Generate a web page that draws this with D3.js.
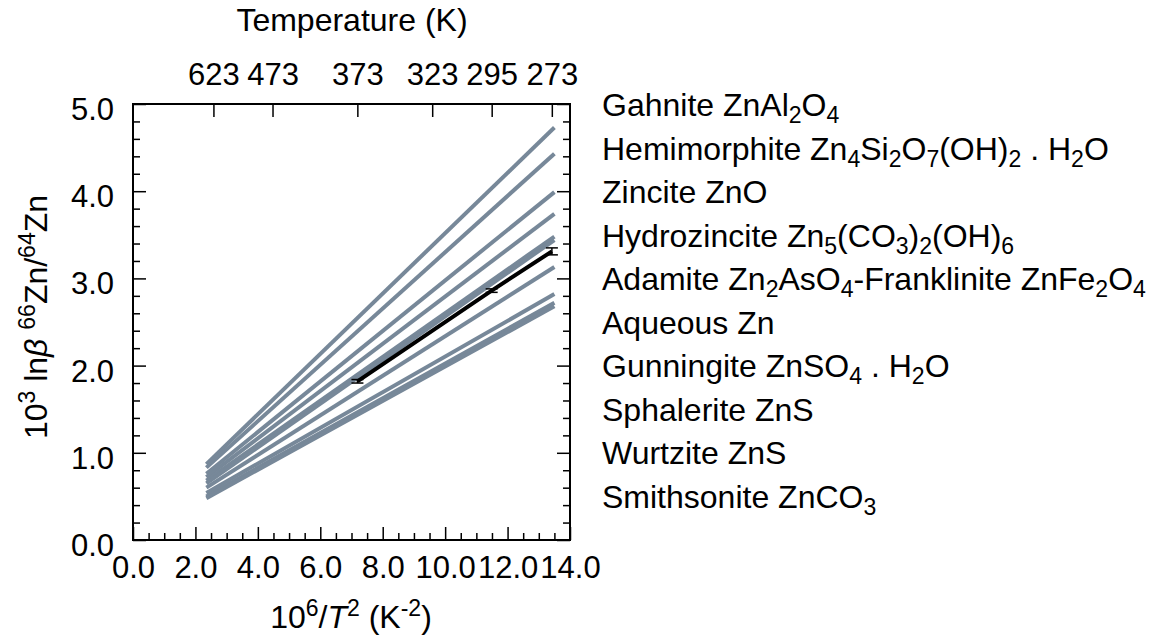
<!DOCTYPE html>
<html>
<head>
<meta charset="utf-8">
<script src="https://cdn.jsdelivr.net/npm/d3@7"></script>
<style>
  body { margin: 0; background: #fff; }
  svg { font-family: "Liberation Sans", Arial, Helvetica, sans-serif; }
</style>
</head>
<body>
<svg id="chart" width="1153" height="635"></svg>
<script>
// model lines: 10^3 ln beta at the hot end and the cold end
const LINE_X = [2.35, 13.5];
const lineStart = [0.87, 0.83, 0.76, 0.72, 0.68, 0.65, 0.60, 0.54, 0.50, 0.48];
const lineEnd   = [4.73, 4.43, 3.99, 3.74, 3.48, 3.44, 3.13, 2.82, 2.72, 2.68];

// measured points (black) with error bars
const measX   = [7.19, 11.49, 13.42];
const measY   = [1.82, 2.86, 3.31];
const measErr = [0.02, 0.02, 0.04];

const xTicks = [0, 2, 4, 6, 8, 10, 12, 14];
const yTicks = [0, 1, 2, 3, 4, 5];
const tempTicks = [623, 473, 373, 323, 295, 273];

// legend text, _{} subscript, ^{} superscript
const minerals = [
  'Gahnite ZnAl_{2}O_{4}',
  'Hemimorphite Zn_{4}Si_{2}O_{7}(OH)_{2} . H_{2}O',
  'Zincite ZnO',
  'Hydrozincite Zn_{5}(CO_{3})_{2}(OH)_{6}',
  'Adamite Zn_{2}AsO_{4}-Franklinite ZnFe_{2}O_{4}',
  'Aqueous Zn',
  'Gunningite ZnSO_{4} . H_{2}O',
  'Sphalerite ZnS',
  'Wurtzite ZnS',
  'Smithsonite ZnCO_{3}'
];

const FS = 32;      // titles, legend
const TICK_FS = 31; // tick labels
const svg = d3.select('#chart');
const x = d3.scaleLinear().domain([0, 14]).range([133, 570]);
const y = d3.scaleLinear().domain([0, 5]).range([540, 104]);

// write text with sub/superscripts and italics (*{..})
function rich(sel, str, size) {
  const parts = str.split(/([_^*]\{[^}]*\})/).filter(s => s.length);
  let shift = 0;
  for (const p of parts) {
    let txt = p, dy = 0, fs = size, it = false;
    if (p[0] === '_' && p[1] === '{') { txt = p.slice(2, -1); dy = 0.22 * size; fs = size * 0.72; }
    else if (p[0] === '^' && p[1] === '{') { txt = p.slice(2, -1); dy = -0.36 * size; fs = size * 0.72; }
    else if (p[0] === '*' && p[1] === '{') { txt = p.slice(2, -1); it = true; }
    sel.append('tspan')
      .attr('dy', dy - shift)
      .attr('font-size', fs)
      .attr('font-style', it ? 'italic' : null)
      .text(txt);
    shift = dy;
  }
}

// lines
const g = svg.append('g');
g.selectAll('.model')
  .data(lineStart.map((s, i) => [[LINE_X[0], s], [LINE_X[1], lineEnd[i]]]))
  .join('path')
  .attr('class', 'model')
  .attr('fill', 'none')
  .attr('stroke', '#778899')
  .attr('stroke-width', 4)
  .attr('d', d3.line().x(d => x(d[0])).y(d => y(d[1])));

const meas = measX.map((v, i) => ({ x: v, y: measY[i], e: measErr[i] }));
g.append('path')
  .datum(meas)
  .attr('fill', 'none')
  .attr('stroke', '#000')
  .attr('stroke-width', 4)
  .attr('d', d3.line().x(d => x(d.x)).y(d => y(d.y)));

const eb = g.selectAll('.err').data(meas).join('g').attr('class', 'err');
eb.append('line')
  .attr('x1', d => x(d.x)).attr('x2', d => x(d.x))
  .attr('y1', d => y(d.y - d.e)).attr('y2', d => y(d.y + d.e))
  .attr('stroke', '#000').attr('stroke-width', 1.5);
for (const sgn of [-1, 1]) {
  eb.append('line')
    .attr('x1', d => x(d.x) - 6).attr('x2', d => x(d.x) + 6)
    .attr('y1', d => y(d.y + sgn * d.e)).attr('y2', d => y(d.y + sgn * d.e))
    .attr('stroke', '#000').attr('stroke-width', 1.5);
}

// axes, ticks pointing in
function styleAxis(a) {
  a.select('.domain').remove();
  a.selectAll('line').attr('stroke', '#000').attr('stroke-width', 1.5);
  a.selectAll('text').attr('font-size', TICK_FS).attr('fill', '#000')
    .attr('font-family', '"Liberation Sans", Arial, sans-serif');
}
const minorX = d3.range(0, 14.01, 0.5).filter(v => v % 2 !== 0);
const minorY = d3.range(0, 5.01, 0.2).filter(v => Math.abs(v - Math.round(v)) > 1e-6);

svg.append('g').attr('transform', 'translate(0,540)')
  .call(d3.axisBottom(x).tickValues(xTicks).tickFormat(d3.format('.1f')).tickSize(-13).tickPadding(16))
  .call(styleAxis);
svg.append('g').attr('transform', 'translate(0,540)')
  .call(d3.axisBottom(x).tickValues(minorX).tickFormat('').tickSize(-7))
  .call(styleAxis);

svg.append('g').attr('transform', 'translate(133,0)')
  .call(d3.axisLeft(y).tickValues(yTicks).tickFormat(d3.format('.1f')).tickSize(-13).tickPadding(19))
  .call(styleAxis)
  .call(a => a.selectAll('text').attr('dy', '0.5em'));
svg.append('g').attr('transform', 'translate(133,0)')
  .call(d3.axisLeft(y).tickValues(minorY).tickFormat('').tickSize(-7))
  .call(styleAxis);
svg.append('g').attr('transform', 'translate(570,0)')
  .call(d3.axisRight(y).tickValues(yTicks).tickFormat('').tickSize(-13))
  .call(styleAxis);
svg.append('g').attr('transform', 'translate(570,0)')
  .call(d3.axisRight(y).tickValues(minorY).tickFormat('').tickSize(-7))
  .call(styleAxis);

svg.append('g').attr('transform', 'translate(0,104)')
  .call(d3.axisTop(x).tickValues(tempTicks.map(t => 1e6 / (t * t)))
    .tickFormat((d, i) => tempTicks[i]).tickSize(-13).tickPadding(19))
  .call(styleAxis);

svg.append('rect')
  .attr('x', 133).attr('y', 104).attr('width', 437).attr('height', 436)
  .attr('fill', 'none').attr('stroke', '#000').attr('stroke-width', 2);

// titles
svg.append('text').attr('x', 352).attr('y', 31).attr('text-anchor', 'middle')
  .attr('font-size', FS).text('Temperature (K)');

rich(svg.append('text').attr('x', 351).attr('y', 628).attr('text-anchor', 'middle')
  .attr('font-size', FS), '10^{6}/*{T}^{2} (K^{-2})', FS);

rich(svg.append('text').attr('transform', 'translate(47,317) rotate(-90)')
  .attr('text-anchor', 'middle').attr('font-size', FS),
  '10^{3} ln*{β} ^{66}Zn/^{64}Zn', FS);

// legend
const ly = d3.scaleLinear().domain([0, minerals.length - 1]).range([116, 507.5]);
minerals.forEach((m, i) => {
  rich(svg.append('text').attr('x', 602).attr('y', ly(i)).attr('font-size', FS), m, FS);
});
</script>
</body>
</html>
